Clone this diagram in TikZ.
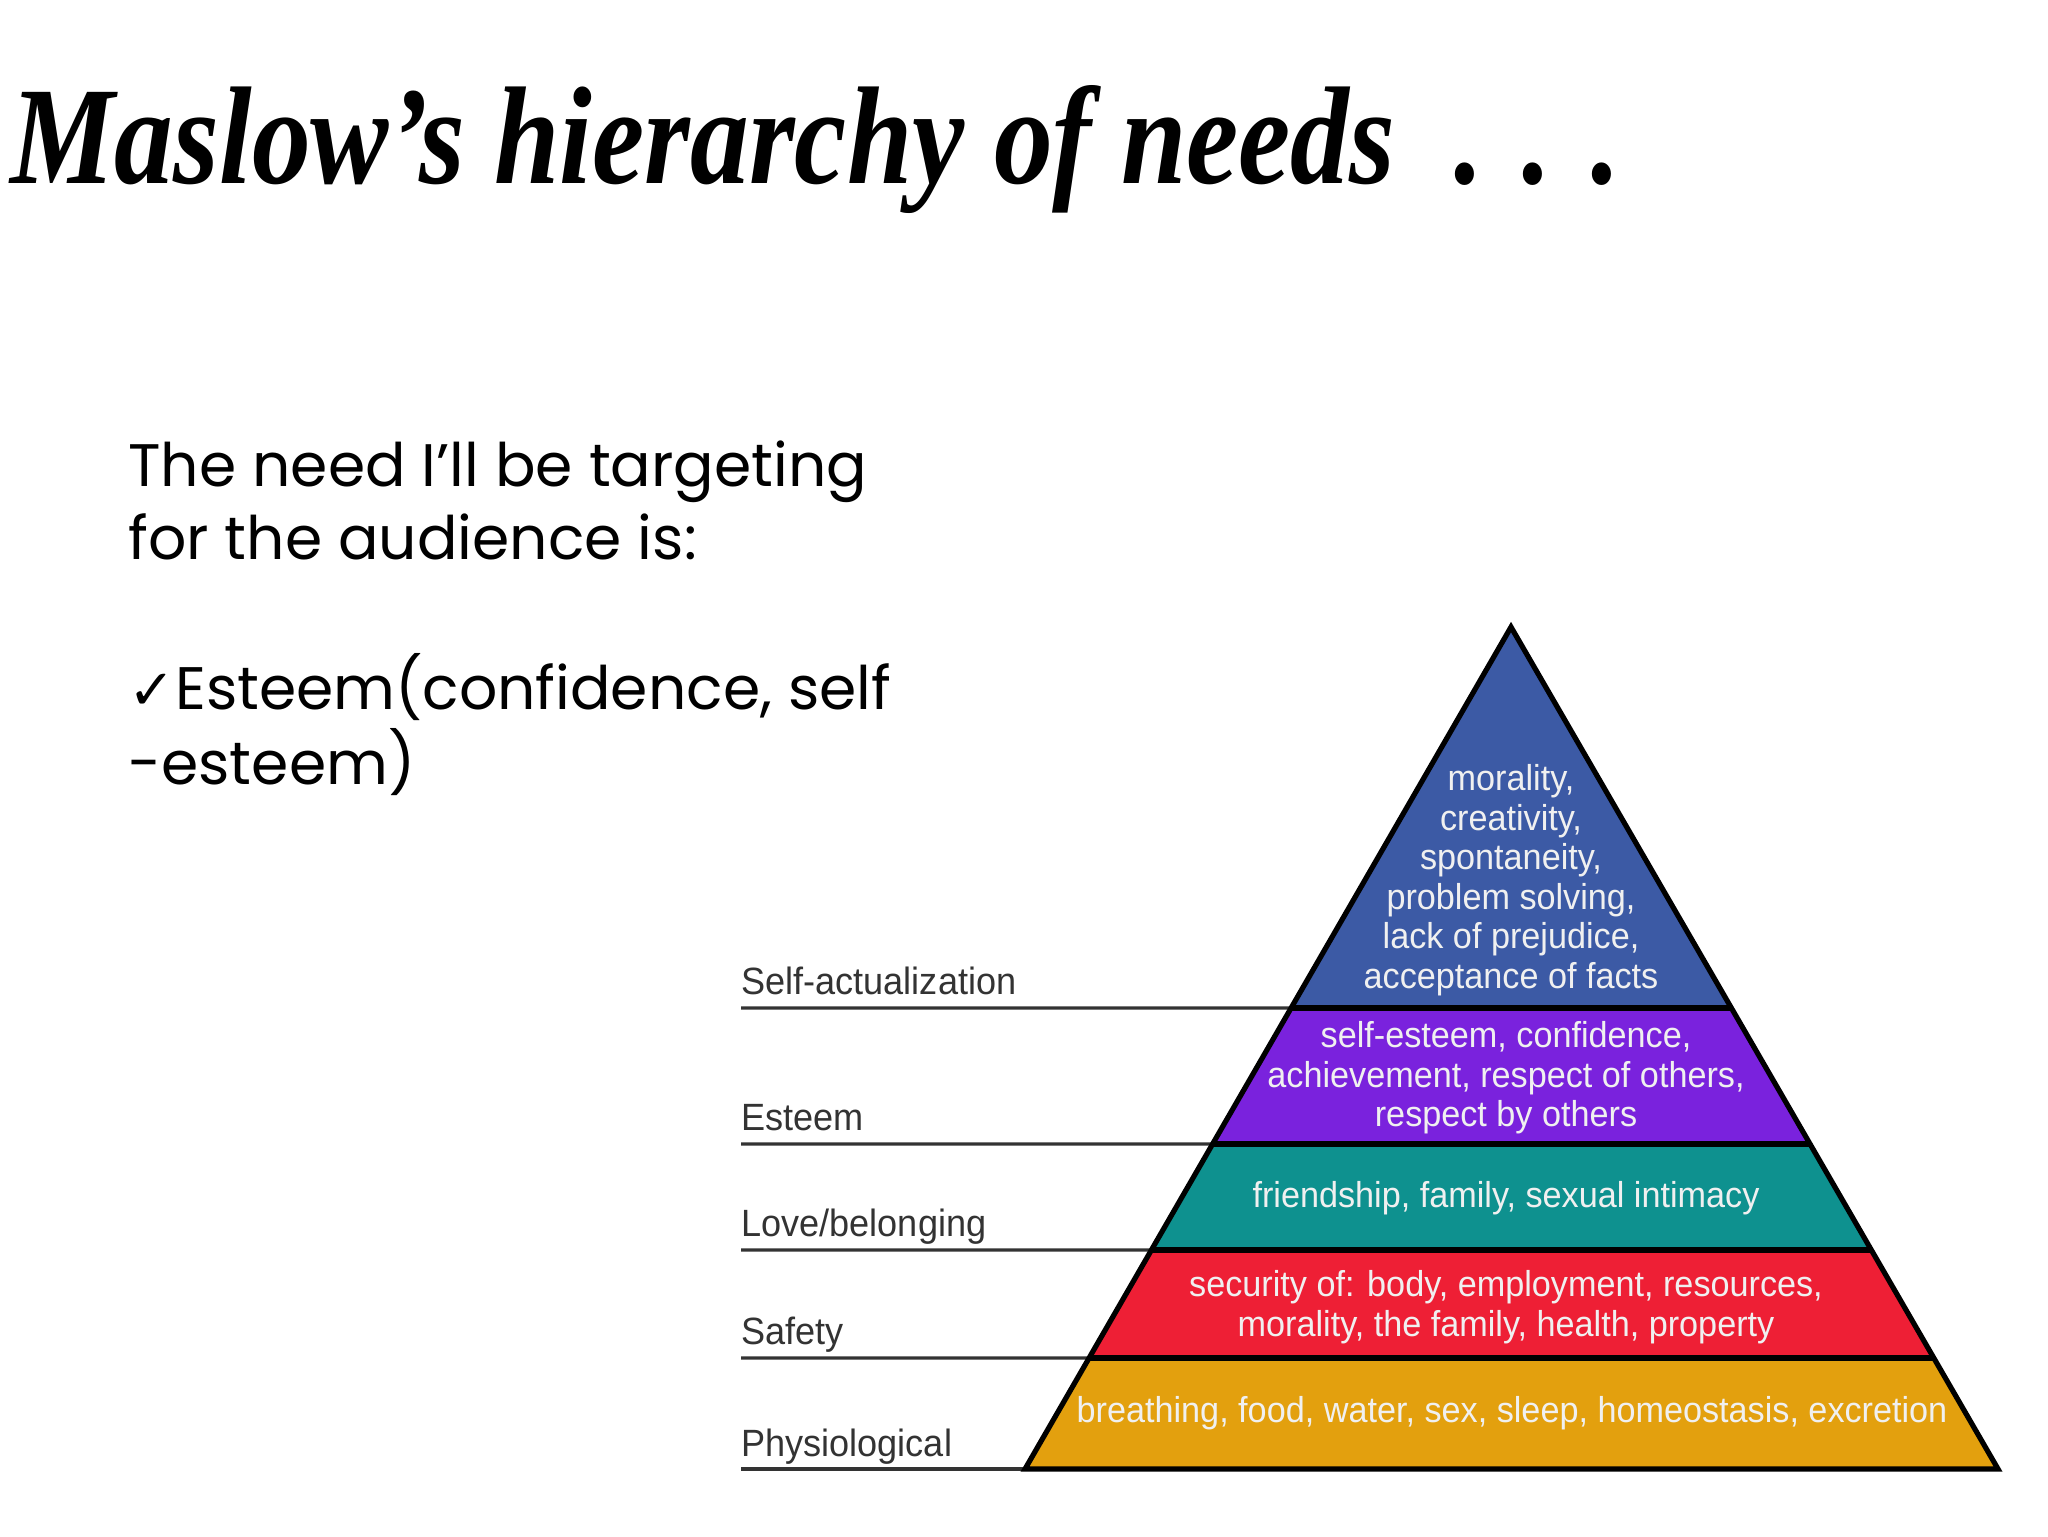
\documentclass[tikz,border=0pt]{standalone}
\usepackage{fontspec}
\usepackage{graphicx}
\usetikzlibrary{calc}
\newfontfamily\pyrfont[FakeStretch=0.95]{Liberation Sans}
\newfontfamily\bodyfont{Poppins}
\newfontfamily\symfont{DejaVu Sans}
\newfontfamily\titlefont{Liberation Serif}
\definecolor{lvblue}{HTML}{3C5AA5}
\definecolor{lvpurple}{HTML}{7A22DD}
\definecolor{lvteal}{HTML}{0E918F}
\definecolor{lvred}{HTML}{EE1F35}
\definecolor{lvgold}{HTML}{E3A00E}
\definecolor{labgrey}{HTML}{333333}
\tikzset{
  layertext/.style={text=white!94!black, align=center, inner sep=0pt,
    font=\pyrfont\fontsize{18}{19.75}\selectfont},
  sidelabel/.style={anchor=base west, inner sep=0pt, text=labgrey,
    font=\pyrfont\fontsize{19}{22}\selectfont},
  labelline/.style={draw=labgrey, line width=1.6pt},
  outline/.style={draw=black, line width=2.6pt, line join=miter},
  bodytext/.style={anchor=base west, inner sep=0pt,
    font=\bodyfont\fontsize{30}{34}\selectfont}
}
\begin{document}
\begin{tikzpicture}[x=0.5pt,y=-0.5pt]
\useasboundingbox (0,0) rectangle (2048,1536);
\fill[white] (0,0) rectangle (2048,1536);

% title
\node[anchor=base west, inner sep=0pt] (title) at (10,183)
  {\resizebox{805pt}{49pt}{\titlefont\bfseries\itshape Maslow’s hierarchy of needs\ \ . . .}};

% body text
\node[bodytext] (b1) at (128,486) {The need I’ll be targeting};
\node[bodytext] (b2) at (128,559) {for the audience is:};
\node[bodytext] (b3) at (128,709) {{\symfont\fontsize{28}{30}\selectfont ✓}Esteem(confidence, self};
\node[bodytext] (b4) at (128,784) {-esteem)};

% pyramid geometry
\coordinate (A) at (1511,627);
\coordinate (BL) at (1025,1469);
\coordinate (BR) at (1998,1469);
\coordinate (L1) at ($(A)!0.4525!(BL)$);
\coordinate (R1) at ($(A)!0.4525!(BR)$);
\coordinate (L2) at ($(A)!0.6140!(BL)$);
\coordinate (R2) at ($(A)!0.6140!(BR)$);
\coordinate (L3) at ($(A)!0.7399!(BL)$);
\coordinate (R3) at ($(A)!0.7399!(BR)$);
\coordinate (L4) at ($(A)!0.8682!(BL)$);
\coordinate (R4) at ($(A)!0.8682!(BR)$);

\fill[lvblue] (A) -- (R1) -- (L1) -- cycle;
\fill[lvpurple] (L1) -- (R1) -- (R2) -- (L2) -- cycle;
\fill[lvteal] (L2) -- (R2) -- (R3) -- (L3) -- cycle;
\fill[lvred] (L3) -- (R3) -- (R4) -- (L4) -- cycle;
\fill[lvgold] (L4) -- (R4) -- (BR) -- (BL) -- cycle;

% label lines
\coordinate (S1) at (741,1008);
\coordinate (S2) at (741,1144);
\coordinate (S3) at (741,1250);
\coordinate (S4) at (741,1358);
\coordinate (S5) at (741,1469);
\draw[labelline] (S1) -- (L1);
\draw[labelline] (S2) -- (L2);
\draw[labelline] (S3) -- (L3);
\draw[labelline] (S4) -- (L4);
\draw[labelline] (S5) -- (BL);

% outlines
\draw[outline] (A) -- (BR) -- (BL) -- cycle;
\draw[outline] (L1) -- (R1);
\draw[outline] (L2) -- (R2);
\draw[outline] (L3) -- (R3);
\draw[outline] (L4) -- (R4);

% side labels
\node[sidelabel] (n1) at (741,994) {Self-actualization};
\node[sidelabel] (n2) at (741,1130) {Esteem};
\node[sidelabel] (n3) at (741,1236) {Love/belonging};
\node[sidelabel] (n4) at (741,1344) {Safety};
\node[sidelabel] (n5) at (741,1456) {Physiological};

% layer texts
\node[layertext] (t1) at (1511,880) {morality,\\creativity,\\spontaneity,\\problem solving,\\lack of prejudice,\\acceptance of facts};
\node[layertext] (t2) at (1506,1078) {self-esteem, confidence,\\achievement, respect of others,\\respect by others};
\node[layertext] (t3) at (1506,1198) {friendship, family, sexual intimacy};
\node[layertext] (t4) at (1506,1307) {security of: body, employment, resources,\\morality, the family, health, property};
\node[layertext] (t5) at (1512,1413) {breathing, food, water, sex, sleep, homeostasis, excretion};
\end{tikzpicture}
\end{document}
